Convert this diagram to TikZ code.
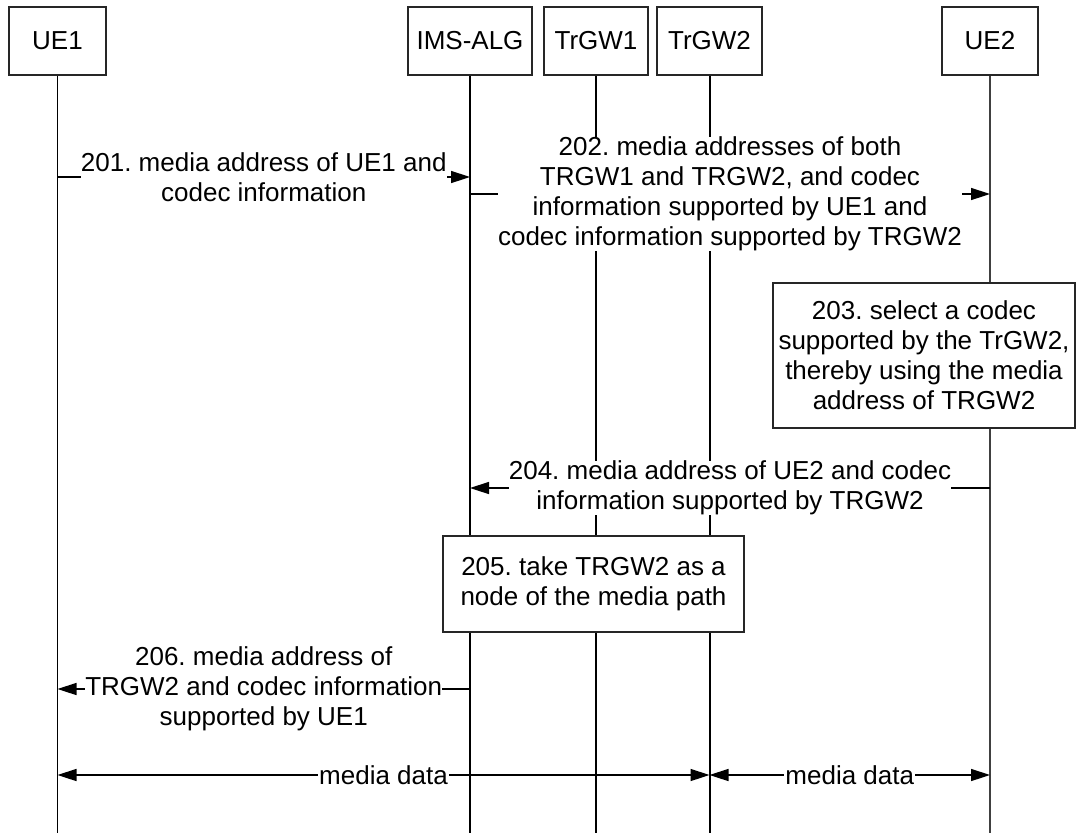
\documentclass[tikz,border=0pt]{standalone}
\usepackage{fontspec}
\setmainfont{Liberation Sans}
\usetikzlibrary{arrows.meta}
\begin{document}
\frenchspacing
\begin{tikzpicture}[x=1pt,y=-1pt,
  txt/.style={font=\fontsize{26}{30}\selectfont\frenchspacing},
  hdr/.style={txt, draw=black!85, line width=1.8pt, minimum width=#1, minimum height=68pt, inner sep=0pt},
  life/.style={line width=1.6pt},
  lifeb/.style={line width=2pt},
  msg/.style={line width=1.5pt, -{Triangle[length=19pt,width=12pt]}},
  dmsg/.style={line width=1.5pt, {Triangle[length=19pt,width=12pt]}-{Triangle[length=19pt,width=12pt]}},
  lbl/.style={txt, fill=white, inner sep=0pt, align=center},
  actbox/.style={txt, draw=black!85, line width=1.8pt, fill=white, align=center, inner sep=0pt},
]
\useasboundingbox (0,0) rectangle (1077,836);

% headers
\node[hdr=97pt]  (ue1) at (57.5,41) {UE1};
\node[hdr=124pt] (ims) at (470,41)  {IMS-ALG};
\node[hdr=104pt] (tr1) at (596,41)  {TrGW1};
\node[hdr=105pt] (tr2) at (709.5,41) {TrGW2};
\node[hdr=96pt]  (ue2) at (990,41)  {UE2};

% lifeline ends
\coordinate (ue1end) at (ue1.south |- 0,833);
\coordinate (imsend) at (ims.south |- 0,833);
\coordinate (tr1end) at (tr1.south |- 0,833);
\coordinate (tr2end) at (tr2.south |- 0,833);
\coordinate (ue2end) at (ue2.south |- 0,833);

\draw[life]  (ue1) -- (ue1end);
\draw[lifeb] (ims) -- (imsend);
\draw[life]  (tr1) -- (tr1end);
\draw[lifeb] (tr2) -- (tr2end);
\draw[life, black!75] (ue2) -- (ue2end);

% 201
\coordinate (m1a) at (ue1.south |- 0,177);
\coordinate (m1b) at (ims.south |- 0,177);
\draw[msg] (m1a) -- (m1b) node[lbl, midway] {201. media address of UE1 and\\codec information};

% 202
\coordinate (m2a) at (ims.south |- 0,194);
\coordinate (m2b) at (ue2.south |- 0,194);
\draw[msg] (m2a) -- (m2b) node[lbl, midway] {202. media addresses of both\\TRGW1 and TRGW2, and codec\\information supported by UE1 and\\codec information supported by TRGW2};

% 203
\node[actbox, minimum width=302pt, minimum height=145pt] (s203) at (924,355.5)
  {203. select a codec\\supported by the TrGW2,\\thereby using the media\\address of TRGW2};

% 204
\coordinate (m4a) at (ue2.south |- 0,488);
\coordinate (m4b) at (ims.south |- 0,488);
\draw[msg] (m4a) -- (m4b) node[lbl, midway] {204. media address of UE2 and codec\\information supported by TRGW2};

% 205
\node[actbox, minimum width=301pt, minimum height=96pt] (s205) at (593.5,584)
  {205. take TRGW2 as a\\node of the media path};

% 206
\coordinate (m6a) at (ims.south |- 0,689);
\coordinate (m6b) at (ue1.south |- 0,689);
\draw[msg] (m6a) -- (m6b) node[lbl, midway] {206. media address of\\TRGW2 and codec information\\supported by UE1};

% media data
\coordinate (d1a) at (ue1.south |- 0,775);
\coordinate (d1b) at (tr2.south |- 0,775);
\coordinate (d2b) at (ue2.south |- 0,775);
\draw[dmsg] (d1a) -- (d1b) node[lbl, midway, inner xsep=1pt] {media data};
\draw[dmsg] (d1b) -- (d2b) node[lbl, midway, inner xsep=1pt] {media data};
\end{tikzpicture}
\end{document}
